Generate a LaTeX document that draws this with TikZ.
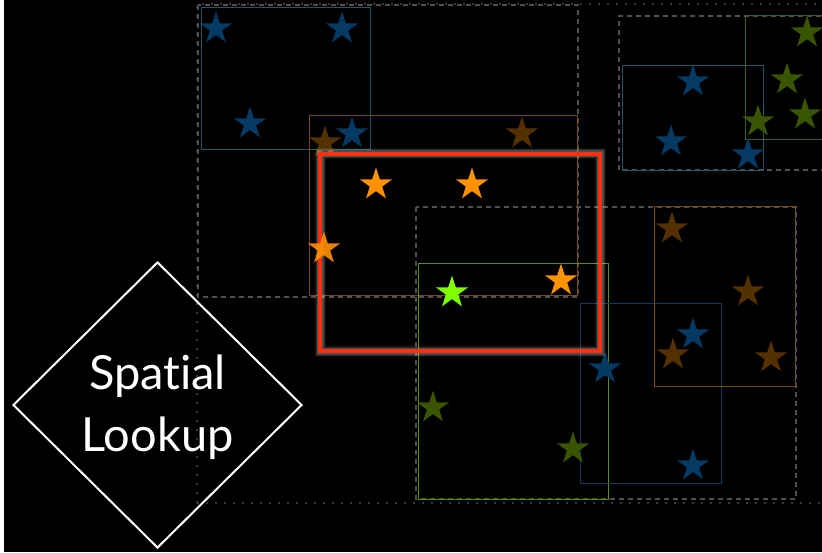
\documentclass[tikz,border=0pt]{standalone}
\usepackage{fontspec}
\setmainfont[Ligatures=NoCommon]{Lato}
\usetikzlibrary{shapes.geometric}
\definecolor{dashgray}{HTML}{505050}
\definecolor{dotgray}{HTML}{383838}
\definecolor{tealbox}{HTML}{1D5A66}
\definecolor{brownbox}{HTML}{7A4A00}
\definecolor{greenbox}{HTML}{5C8C0A}
\definecolor{greenboxdark}{HTML}{3D6100}
\definecolor{bluebox}{HTML}{0E3A5E}
\definecolor{bluestar}{HTML}{043A63}
\definecolor{brownstar}{HTML}{553100}
\definecolor{orangestar}{HTML}{FF9200}
\definecolor{limestar}{HTML}{80FF00}
\definecolor{greenstar}{HTML}{3A5500}
\definecolor{hilite}{HTML}{FF3010}
\tikzset{
  pt/.style={star, star points=5, star point ratio=2.618, minimum size=34pt, inner sep=0pt, draw=none, yshift=-1.6pt},
  bluept/.style={pt, fill=bluestar},
  brownpt/.style={pt, fill=brownstar},
  orangept/.style={pt, fill=orangestar},
  limept/.style={pt, fill=limestar},
  greenpt/.style={pt, fill=greenstar},
  dashbox/.style={draw=dashgray, line width=2pt, dash pattern=on 5pt off 4pt},
  dotbox/.style={draw=dotgray, line width=1.6pt, dash pattern=on 1.6pt off 7.4pt},
  thinbox/.style={line width=1pt},
}
\begin{document}
\begin{tikzpicture}[x=1pt,y=-1pt]
\useasboundingbox (0,0) rectangle (822,552);
\fill[white] (0,0) rectangle (4,552);
\fill[black] (4,0) rectangle (822,552);
\begin{scope}
\clip (4,0) rectangle (822,552);
% group boxes
\draw[dotbox] (197,503) -- (197,4) -- (830,4);
\draw[dotbox] (197,503) -- (830,503);
\draw[dashbox] (198,5) rectangle (578,297);
\draw[dashbox] (830,16) -- (619,16) -- (619,170) -- (830,170);
\draw[dashbox] (416,207) rectangle (796,499);
% leaf boxes
\draw[thinbox, draw=tealbox] (201,7) rectangle (370,149);
\draw[thinbox, draw=brownbox] (309,115) rectangle (577,295);
\draw[thinbox, draw=tealbox] (622,65) rectangle (763,170);
\draw[thinbox, draw=greenboxdark] (830,15) -- (745,15) -- (745,139) -- (830,139);
\draw[thinbox, draw=greenbox] (418,263) rectangle (608,499);
\draw[thinbox, draw=bluebox] (580,303) rectangle (721,483);
\draw[thinbox, draw=brownbox] (654,206) rectangle (795,386);
% stars
\node[bluept] (b1) at (216,27) {};
\node[bluept] (b2) at (342,27) {};
\node[bluept] (b3) at (250,122) {};
\node[bluept] (b4) at (352,132) {};
\node[bluept] (b5) at (693,80) {};
\node[bluept] (b6) at (671,140) {};
\node[bluept] (b7) at (748,153) {};
\node[bluept] (b8) at (605,367) {};
\node[bluept] (b9) at (693,464) {};
\node[bluept] (b10) at (693,333) {};
\node[brownpt] (r1) at (325,141) {};
\node[brownpt] (r2) at (522,132) {};
\node[brownpt] (r3) at (672,227) {};
\node[brownpt] (r4) at (748,290) {};
\node[brownpt] (r5) at (673,353) {};
\node[brownpt] (r6) at (771,356) {};
\node[greenpt] (g1) at (433,406) {};
\node[greenpt] (g2) at (573,447) {};
\node[greenpt] (g3) at (807,31) {};
\node[greenpt] (g4) at (787,78) {};
\node[greenpt] (g5) at (805,113) {};
\node[greenpt] (g6) at (758,120) {};
% query rectangle with soft glow
\draw[white, opacity=0.06, line width=11pt] (320,153.5) rectangle (600,351);
\draw[white, opacity=0.10, line width=9pt] (320,153.5) rectangle (600,351);
\draw[white, opacity=0.18, line width=7pt] (320,153.5) rectangle (600,351);
\draw[hilite, line width=4pt] (320,153.5) rectangle (600,351);
\node[orangept] (o1) at (376,183) {};
\node[orangept] (o2) at (472,183) {};
\node[orangept, opacity=0.9] (o3) at (324,247) {};
\node[orangept] (o4) at (561,279) {};
\node[limept] (l1) at (452,291) {};
\end{scope}
% label
\node[diamond, draw=white, line width=2pt, minimum width=289pt, minimum height=286pt, inner sep=0pt] (dia) at (157.5,405) {};
\node[text=white, align=center, font=\fontsize{47}{62}\selectfont, inner sep=0pt] (lbl) at (157.5,407) {Spatial\\Lookup};
\end{tikzpicture}
\end{document}
